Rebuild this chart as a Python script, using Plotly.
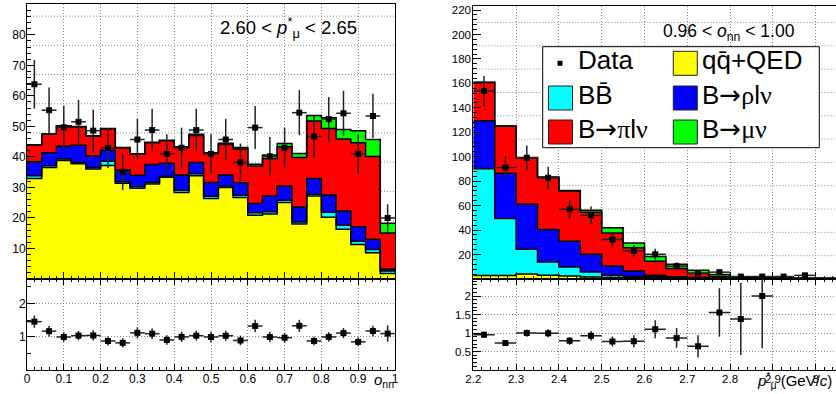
import numpy as np
import plotly.graph_objects as go

# ---------------- left panel: o_NN distribution, 2.60 < p*_mu < 2.65 ----------------
onn_edges = [0.00, 0.04, 0.08, 0.12, 0.16, 0.20, 0.24, 0.28, 0.32, 0.36, 0.40, 0.44, 0.48,
             0.52, 0.56, 0.60, 0.64, 0.68, 0.72, 0.76, 0.80, 0.84, 0.88, 0.92, 0.96, 1.00]
onn_qq = [32.9, 36.5, 38.8, 37.8, 36.0, 37.2, 31.4, 29.7, 31.1, 33.3, 28.3, 33.8, 26.4,
          30.0, 26.7, 20.9, 21.3, 25.1, 18.0, 27.2, 20.2, 16.3, 11.3, 8.6, 1.8]
onn_bb = [0.9, 0.6, 0.5, 0.4, 0.5, 1.4, 0.5, 0.5, 0.5, 0.4, 0.8, 0.7, 0.7,
          0.5, 0.7, 0.8, 0.7, 0.7, 0.7, 0.6, 1.7, 1.3, 1.1, 1.1, 0.8]
onn_rho = [4.6, 4.3, 4.2, 5.6, 3.8, 3.6, 3.8, 3.8, 5.9, 4.2, 5.0, 3.7, 4.5,
           3.6, 4.1, 3.0, 5.2, 4.7, 4.9, 5.1, 5.6, 4.7, 4.7, 3.3, 0.7]
onn_pi = [5.5, 6.0, 6.6, 6.1, 6.5, 7.0, 7.3, 6.9, 7.1, 7.4, 9.0, 8.8, 9.5,
          10.0, 11.1, 12.3, 12.3, 12.8, 16.2, 18.9, 21.8, 23.6, 27.5, 27.1, 11.8]
onn_munu = [0.1, 0.1, 0.1, 0.1, 0.1, 0.1, 0.1, 0.1, 0.2, 0.2, 0.2, 0.4, 0.3,
            0.4, 0.5, 0.6, 1.1, 1.1, 1.3, 1.8, 3.5, 3.1, 4.0, 5.6, 3.2]
onn_data = [63.8, 55.3, 49.7, 51.5, 48.6, 42.9, 35.1, 45.7, 48.8, 41.0, 43.0, 48.8, 41.0,
            45.7, 38.2, 49.6, 40.2, 43.0, 54.5, 46.7, 52.4, 54.3, 41.0, 53.4, 20.0]
onn_ticks = [0, 0.1, 0.2, 0.3, 0.4, 0.5, 0.6, 0.7, 0.8, 0.9, 1.0]
onn_ticktext = ["0", "0.1", "0.2", "0.3", "0.4", "0.5", "0.6", "0.7", "0.8", "0.9", "1"]
onn_yticks = [10, 20, 30, 40, 50, 60, 70, 80]

# ---------------- right panel: p*_mu distribution, 0.96 < o_NN < 1.00 ----------------
p_edges = [2.20, 2.25, 2.30, 2.35, 2.40, 2.45, 2.50, 2.55, 2.60, 2.65, 2.70, 2.75, 2.80,
           2.85, 2.90, 2.95, 3.00, 3.05]
p_qq = [2.8, 2.8, 4.0, 3.0, 2.5, 1.7, 1.2, 1.2, 1.2, 1.0, 0.8, 0.7, 0.5, 0.5, 0.45, 0.4, 0.4]
p_bb = [87.3, 46.7, 20.4, 10.9, 7.4, 4.1, 1.9, 0.8, 0.5, 0.3, 0.2, 0.1, 0.05, 0.0, 0.0, 0.0, 0.0]
p_rho = [39.3, 37.1, 36.8, 26.5, 21.0, 14.4, 7.6, 4.6, 1.3, 0.5, 0.3, 0.1, 0.05, 0.0, 0.0, 0.0, 0.0]
p_pi = [31.4, 38.5, 38.0, 42.7, 41.1, 34.4, 27.0, 18.9, 11.5, 6.8, 3.4, 1.2, 0.35, 0.2, 0.1, 0.1, 0.05]
p_munu = [0.1, 0.1, 0.2, 0.3, 0.3, 1.7, 4.3, 4.0, 3.9, 3.5, 2.5, 1.5, 0.5, 0.3, 0.15, 0.2, 0.1]
p_data = [153.7, 91.2, 99.2, 82.8, 57.1, 52.1, 32.3, 23.0, 20.3, 10.5, 4.6, 5.6, 2.0, 2.0, 2.0, 3.0, None]
p_ticks = [2.2, 2.3, 2.4, 2.5, 2.6, 2.7, 2.8, 2.9, 3.0]
p_ticktext = ["2.2", "2.3", "2.4", "2.5", "2.6", "2.7", "2.8", "2.9", "3"]
p_yticks = [20, 40, 60, 80, 100, 120, 140, 160, 180, 200, 220]

C_QQ, C_BB, C_RHO, C_PI, C_MUNU = "#ffff00", "#00ffff", "#0000ff", "#ff0000", "#00ff00"

W, H = 836, 394
def fx(p):
    return p / W
def fy(p):
    return 1 - p / H

fig = go.Figure()


def add_stack(xa, ya, edges, comps):
    cum = np.zeros(len(edges) - 1)
    for i, (vals, col) in enumerate(comps):
        cum = cum + np.array(vals, dtype=float)
        y = list(cum) + [cum[-1]]
        fig.add_trace(go.Scatter(
            x=edges, y=y, mode="lines",
            line=dict(shape="hv", color="black", width=1.5),
            fill="tozeroy" if i == 0 else "tonexty", fillcolor=col,
            xaxis=xa, yaxis=ya, hoverinfo="skip", showlegend=False))
    return cum


def add_points(xa, ya, x, y, ey, halfw):
    fig.add_trace(go.Scatter(
        x=x, y=y, mode="markers",
        marker=dict(symbol="square", size=6, color="black"),
        error_y=dict(type="data", array=ey, color="#222222", thickness=1.5, width=0),
        error_x=dict(type="constant", value=halfw, color="#222222", thickness=1.5, width=0),
        xaxis=xa, yaxis=ya, showlegend=False, hoverinfo="skip"))


# left
onn_c = [(a + b) / 2 for a, b in zip(onn_edges[:-1], onn_edges[1:])]
onn_tot = add_stack("x", "y", onn_edges, [(onn_qq, C_QQ), (onn_bb, C_BB), (onn_rho, C_RHO),
                                          (onn_pi, C_PI), (onn_munu, C_MUNU)])
onn_d = np.array(onn_data, dtype=float)
add_points("x", "y", onn_c, onn_d, np.sqrt(onn_d), 0.02)
onn_ratio = onn_d / onn_tot
onn_rerr = np.sqrt(onn_d) / onn_tot
add_points("x2", "y2", onn_c, onn_ratio, onn_rerr, 0.02)

# right
p_c = [(a + b) / 2 for a, b in zip(p_edges[:-1], p_edges[1:])]
p_tot = add_stack("x3", "y3", p_edges, [(p_qq, C_QQ), (p_bb, C_BB), (p_rho, C_RHO),
                                        (p_pi, C_PI), (p_munu, C_MUNU)])
p_d = np.array([np.nan if v is None else v for v in p_data], dtype=float)
add_points("x3", "y3", p_c, [None if np.isnan(v) else v for v in p_d],
           [None if np.isnan(v) else float(np.sqrt(v)) for v in p_d], 0.025)
R4MAX = 2.46
p_ratio, p_rerr = [], []
for d, t in zip(p_d, p_tot):
    r = d / t if (not np.isnan(d) and t > 0) else np.nan
    if np.isnan(r) or r > R4MAX:
        p_ratio.append(None)
        p_rerr.append(None)
    else:
        p_ratio.append(float(r))
        p_rerr.append(float(np.sqrt(d) / t))
add_points("x4", "y4", p_c, p_ratio, p_rerr, 0.025)

FONT = "Liberation Sans, Arial, Helvetica, sans-serif"
GRID = dict(gridcolor="#8c8c8c", griddash="1px,2px", gridwidth=1)
base = dict(showline=True, linecolor="black", linewidth=1, ticks="inside", tickcolor="black",
            tickwidth=1, zeroline=False, automargin=False,
            tickfont=dict(family=FONT, size=12, color="black"))

xl = [fx(27), fx(395)]
xr = [fx(473.3), 1.0]
top_l = [fy(279), fy(4)]
top_r = [fy(279), fy(6)]
bot = [fy(370), fy(279)]

fig.update_layout(
    width=W, height=H, margin=dict(l=0, r=0, t=0, b=0, autoexpand=False),
    paper_bgcolor="white", plot_bgcolor="white", showlegend=False,
    xaxis=dict(base, domain=xl, range=[0, 1], anchor="y", tickmode="linear", tick0=0, dtick=0.1,
               ticklen=7, minor=dict(tick0=0, dtick=0.02, ticklen=3.5, ticks="inside", tickcolor="black"),
               showticklabels=False, showgrid=True, mirror=True, **GRID),
    yaxis=dict(base, domain=top_l, range=[0, 90.1], anchor="x", tickmode="array", tickvals=onn_yticks,
               ticklen=8, minor=dict(tick0=0, dtick=2, ticklen=4, ticks="inside", tickcolor="black"),
               showgrid=False, mirror=True, ticklabelstandoff=-2),
    xaxis2=dict(base, domain=xl, range=[0, 1], anchor="y2", tickmode="array", tickvals=onn_ticks,
                ticktext=onn_ticktext, ticklen=6,
                minor=dict(tick0=0, dtick=0.02, ticklen=3, ticks="inside", tickcolor="black"),
                showgrid=True, mirror="ticks", ticklabelstandoff=-2, **GRID),
    yaxis2=dict(base, domain=bot, range=[0, 2.73], anchor="x2", tickmode="array", tickvals=[1, 2],
                ticklen=8, minor=dict(tick0=0, dtick=0.5, ticklen=4, ticks="inside", tickcolor="black"),
                showgrid=True, mirror=True, ticklabelstandoff=-2, **GRID),
    xaxis3=dict(base, domain=xr, range=[2.2, 3.0474], anchor="y3", tickmode="linear", tick0=2.2, dtick=0.1,
                ticklen=7, minor=dict(tick0=2.2, dtick=0.02, ticklen=3.5, ticks="inside", tickcolor="black"),
                showticklabels=False, showgrid=True, mirror=True, **GRID),
    yaxis3=dict(base, domain=top_r, range=[0, 223.3], anchor="x3", tickmode="array", tickvals=p_yticks,
                ticklen=8, minor=dict(tick0=0, dtick=4, ticklen=4, ticks="inside", tickcolor="black"),
                showgrid=False, mirror=False, ticklabelstandoff=-1),
    xaxis4=dict(base, domain=xr, range=[2.2, 3.0474], anchor="y4", tickmode="array", tickvals=p_ticks,
                ticktext=p_ticktext, ticklen=6,
                minor=dict(tick0=2.2, dtick=0.02, ticklen=3, ticks="inside", tickcolor="black"),
                showgrid=True, mirror="ticks", ticklabelstandoff=-2, **GRID),
    yaxis4=dict(base, domain=bot, range=[0, R4MAX], anchor="x4", tickmode="array",
                tickvals=[0.5, 1, 1.5, 2], ticktext=["0.5", "1", "1.5", "2"], ticklen=8,
                minor=dict(tick0=0, dtick=0.1, ticklen=4, ticks="inside", tickcolor="black"),
                showgrid=True, mirror=False, ticklabelstandoff=-1, **GRID),
)
fig.update_layout(yaxis3_tickfont=dict(family=FONT, size=11.5, color="black"),
                  xaxis4_tickfont=dict(family=FONT, size=11.5, color="black"),
                  yaxis4_tickfont=dict(family=FONT, size=11.5, color="black"))

shapes = []
# horizontal grid lines of the upper pads (ROOT pad grid)
for k in range(1, 10):
    shapes.append(dict(type="line", xref="x domain", x0=0, x1=1, yref="y", y0=9.57 * k, y1=9.57 * k,
                       line=dict(color="#8c8c8c", width=1, dash="1px,2px"), layer="below"))
for k in range(1, 12):
    shapes.append(dict(type="line", xref="x3 domain", x0=0, x1=1, yref="y3", y0=19.07 * k, y1=19.07 * k,
                       line=dict(color="#8c8c8c", width=1, dash="1px,2px"), layer="below"))

# legend
SYM = "<span style=\"font-family:'Liberation Serif', serif\">"
ARR = "<span style=\"font-family:'DejaVu Sans'\">\u2192</span>"
shapes.append(dict(type="rect", xref="paper", yref="paper", x0=fx(542.7), x1=fx(819.3),
                   y0=fy(147.7), y1=fy(46.7), line=dict(color="black", width=1),
                   fillcolor="white", layer="above"))
legend_items = [
    ("marker", None, 560, 63.3, "Data"),
    ("box", C_BB, 560.5, 98, "BB\u0304"),
    ("box", C_PI, 560.5, 132, "B" + ARR + SYM + "\u03c0</span>l" + SYM + "\u03bd</span>"),
    ("box", C_QQ, 685.3, 63.3, "qq\u0304+QED"),
    ("box", C_RHO, 685.3, 98, "B" + ARR + SYM + "\u03c1</span>l" + SYM + "\u03bd</span>"),
    ("box", C_MUNU, 685.3, 132, "B" + ARR + SYM + "\u03bc\u03bd</span>"),
]
annotations = []
for kind, col, cx, cy, label in legend_items:
    if kind == "box":
        shapes.append(dict(type="rect", xref="paper", yref="paper", x0=fx(cx - 12), x1=fx(cx + 12),
                           y0=fy(cy + 12), y1=fy(cy - 12), line=dict(color="#222222", width=1),
                           fillcolor=col, layer="above"))
        tx = cx + 15
    else:
        shapes.append(dict(type="rect", xref="paper", yref="paper", x0=fx(cx - 2.5), x1=fx(cx + 2.5),
                           y0=fy(cy + 2.5), y1=fy(cy - 2.5), line=dict(color="black", width=0),
                           fillcolor="black", layer="above"))
        tx = cx + 16
    annotations.append(dict(xref="paper", yref="paper", x=fx(tx), y=fy(cy - 3), xanchor="left",
                            yanchor="middle", text=label, showarrow=False,
                            font=dict(family=FONT, size=26, color="black")))

annotations += [
    dict(xref="paper", yref="paper", x=fx(218), y=fy(27), xanchor="left", yanchor="middle",
         text="2.60 &lt; <i>p</i><sup>*</sup><sub>\u03bc</sub> &lt; 2.65", showarrow=False,
         font=dict(family=FONT, size=18.5, color="black")),
    dict(xref="paper", yref="paper", x=fx(661), y=fy(32), xanchor="left", yanchor="middle",
         text="0.96 &lt; <i>o</i><sub>nn</sub> &lt; 1.00", showarrow=False,
         font=dict(family=FONT, size=17.5, color="black")),
    dict(xref="paper", yref="paper", x=fx(372), y=fy(380), xanchor="left", yanchor="middle",
         text="<i>o</i><sub>nn</sub>", showarrow=False,
         font=dict(family=FONT, size=15, color="black")),
    dict(xref="paper", yref="paper", x=fx(755), y=fy(380), xanchor="left", yanchor="middle",
         text="<i>p</i><sup>*</sup><sub>\u03bc</sub> (GeV/<i>c</i>)", showarrow=False,
         font=dict(family=FONT, size=15, color="black")),
]
fig.update_layout(shapes=shapes, annotations=annotations)

fig.write_html("out.html")
